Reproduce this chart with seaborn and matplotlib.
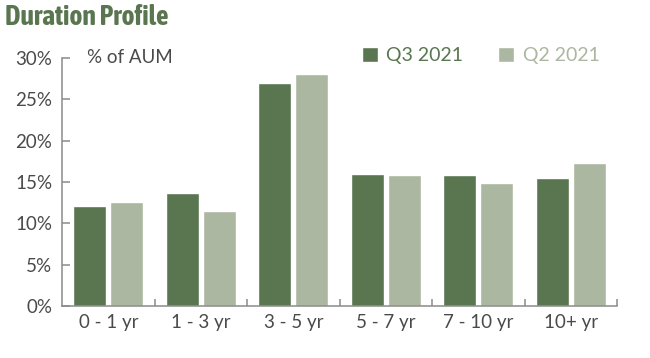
import pandas as pd
import seaborn as sns
import matplotlib.pyplot as plt
from matplotlib.ticker import FixedLocator
from matplotlib import font_manager

# data
buckets = ["0 - 1 yr", "1 - 3 yr", "3 - 5 yr", "5 - 7 yr", "7 - 10 yr", "10+ yr"]
q3_2021 = [12.1, 13.7, 27.0, 16.0, 15.9, 15.5]
q2_2021 = [12.6, 11.5, 28.1, 15.8, 14.9, 17.3]
series = ["Q3 2021", "Q2 2021"]
yticks = [0, 5, 10, 15, 20, 25, 30]

dark = "#5a7650"
light = "#abb7a0"
axis_grey = "#8a8a8a"
text_grey = "#4a4a4a"

df = pd.DataFrame({
    "bucket": buckets * 2,
    "pct": q3_2021 + q2_2021,
    "quarter": [series[0]] * len(buckets) + [series[1]] * len(buckets),
})

# pick a bold condensed face for the title, narrowest families first
cands = [f for f in font_manager.fontManager.ttflist
         if ("Condensed" in f.name or "Narrow" in f.name
             or "condensed" in str(f.stretch) or "Condensed" in f.fname)]
bold = [f for f in cands if (isinstance(f.weight, int) and f.weight >= 600)
        or "Bold" in f.fname]
bold = [f for f in bold if "Italic" not in f.fname and "Extra" not in f.fname
        and "Black" not in f.fname and "Semi" not in f.fname]
bold.sort(key=lambda f: ("DejaVu" in f.fname, f.fname))
if bold:
    wide = "DejaVu" in bold[0].fname
    title_font = font_manager.FontProperties(fname=bold[0].fname,
                                             size=16 if wide else 20)
else:
    title_font = font_manager.FontProperties(family="DejaVu Sans",
                                             weight="bold", size=14)

sns.set_theme(style="white")
plt.rcParams['font.family'] = ['Lato', 'DejaVu Sans']

fig = plt.figure(figsize=(6.5, 3.58), dpi=100)
ax = fig.add_axes([0.0954, 0.145, 0.854, 0.693])

sns.barplot(data=df, x="bucket", y="pct", hue="quarter", order=buckets,
            hue_order=series, palette=[dark, light], saturation=1,
            width=0.8, gap=0.1, ax=ax)

ax.set_ylim(0, 30)
ax.set_xlim(-0.5, len(buckets) - 0.5)
ax.set_yticks(yticks)
ax.set_yticklabels([f"{t}%" for t in yticks])
ax.xaxis.set_minor_locator(FixedLocator([i + 0.5 for i in range(len(buckets))]))
ax.tick_params(axis="y", direction="in", length=6, width=1.1, color=axis_grey,
               labelsize=13.5, labelcolor=text_grey, pad=7, left=True)
ax.tick_params(axis="x", which="major", length=0, labelsize=13.5,
               labelcolor=text_grey, pad=6)
ax.tick_params(axis="x", which="minor", direction="in", length=5, width=1.1,
               color=axis_grey, bottom=True)
ax.set_xlabel("")
ax.set_ylabel("")
ax.spines[['right', 'top']].set_visible(False)
for s in ['left', 'bottom']:
    ax.spines[s].set_color(axis_grey)
    ax.spines[s].set_linewidth(1.1)

ax.text(0.045, 30, "% of AUM", transform=ax.get_yaxis_transform(),
        fontsize=13.5, color=text_grey, va="center", ha="left")

leg = ax.legend(ncol=2, loc="center left", bbox_to_anchor=(0.509, 1.01),
                frameon=False, fontsize=14, labelcolor=[dark, light],
                handlelength=0.8, handleheight=0.8, handletextpad=0.45,
                columnspacing=1.8)

fig.text(0.008, 0.95, "Duration Profile", fontproperties=title_font,
         color=dark, va="center", ha="left")

plt.savefig("out.png", dpi=100, facecolor="white")
